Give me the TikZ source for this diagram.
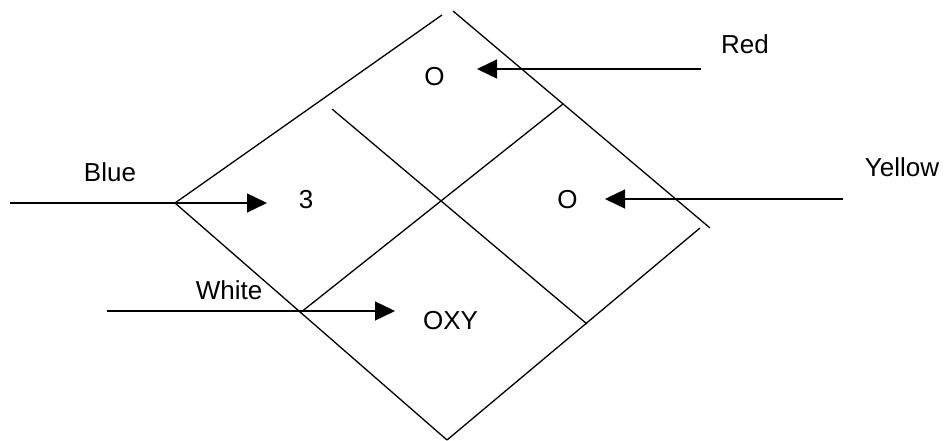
\documentclass[tikz,border=0pt]{standalone}
\usepackage{fontspec}
\setmainfont{Liberation Sans}
\usetikzlibrary{arrows.meta}
\begin{document}
\begin{tikzpicture}[x=1pt,y=-1pt,
  edge/.style={line width=1.3pt,line cap=butt},
  arr/.style={line width=1.3pt,-{Triangle[length=20pt,width=19pt]}},
  lbl/.style={anchor=base,inner sep=0pt,font=\fontsize{26}{30}\selectfont}]
\useasboundingbox (0,0) rectangle (946,441);
% diamond corners and inner line ends
\coordinate (L1) at (175,203);
\coordinate (T1) at (442,15);
\coordinate (T2) at (453,11);
\coordinate (R1) at (710,228);
\coordinate (R2) at (700,228);
\coordinate (B) at (447,440);
\coordinate (I1a) at (332,109);
\coordinate (I1b) at (587,324);
\coordinate (I2a) at (563,104);
\coordinate (I2b) at (300,313);
\draw[edge] (L1) -- (T1);
\draw[edge] (T2) -- (R1);
\draw[edge] (L1) -- (B);
\draw[edge] (B) -- (R2);
\draw[edge] (I1a) -- (I1b);
\draw[edge] (I2a) -- (I2b);
% labels
\node[lbl] (red) at (745,54) {Red};
\node[lbl] (blue) at (110,182) {Blue};
\node[lbl] (yellow) at (902,177) {Yellow};
\node[lbl] (white) at (229,299) {White};
\node[lbl] (oxy) at (450.5,329) {OXY};
\node[lbl] (three) at (306,208) {3};
\node[lbl] (otop) at (434.5,85.5) {O};
\node[lbl] (oright) at (567.5,208.5) {O};
% arrows
\coordinate (bs) at (10,203);   \coordinate (be) at (267,203);
\coordinate (ws) at (107,311);  \coordinate (we) at (395,311);
\coordinate (rs) at (701,69);   \coordinate (re) at (477,69);
\coordinate (ys) at (843,199);  \coordinate (ye) at (605,199);
\draw[arr] (bs) -- (be);
\draw[arr] (ws) -- (we);
\draw[arr] (rs) -- (re);
\draw[arr] (ys) -- (ye);
\end{tikzpicture}
\end{document}
